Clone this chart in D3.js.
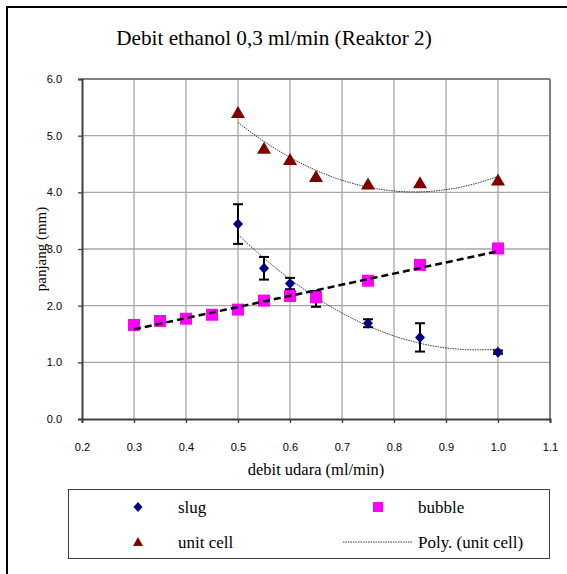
<!DOCTYPE html>
<html>
<head>
<meta charset="utf-8">
<script src="https://cdn.jsdelivr.net/npm/d3@7"></script>
<style>
  body { margin: 0; background: #fff; }
</style>
</head>
<body>
<div id="chart"></div>
<script>
// data
var xSlug = [0.5, 0.55, 0.6, 0.65, 0.75, 0.85, 1.0];
var ySlug = [3.44, 2.66, 2.39, 2.12, 1.69, 1.44, 1.18];
var errSlug = [0.35, 0.2, 0.1, 0.14, 0.07, 0.25, 0.03];

var xBubble = [0.3, 0.35, 0.4, 0.45, 0.5, 0.55, 0.6, 0.65, 0.75, 0.85, 1.0];
var yBubble = [1.66, 1.73, 1.77, 1.84, 1.93, 2.09, 2.17, 2.15, 2.44, 2.72, 3.01];

var xCell = [0.5, 0.55, 0.6, 0.65, 0.75, 0.85, 1.0];
var yCell = [5.4, 4.77, 4.57, 4.27, 4.14, 4.16, 4.21];

var xTicks = [0.2, 0.3, 0.4, 0.5, 0.6, 0.7, 0.8, 0.9, 1.0, 1.1];
var yTicks = [0, 1, 2, 3, 4, 5, 6];

var W = 567, H = 574;
var margin = {top: 79, right: 17, bottom: 155, left: 82},
    width = W - margin.left - margin.right,
    height = H - margin.top - margin.bottom;

var serif = "Liberation Serif, Times New Roman, serif";

var svg = d3.select("#chart")
  .append("svg")
  .attr("width", W)
  .attr("height", H);

// outer frame
svg.append("rect")
  .attr("x", 7).attr("y", 7)
  .attr("width", 620).attr("height", 620)
  .attr("fill", "none")
  .attr("stroke", "#000")
  .attr("stroke-width", 2);

svg.append("text")
  .attr("x", 274).attr("y", 45)
  .attr("text-anchor", "middle")
  .style("font-family", serif)
  .style("font-size", "21.2px")
  .text("Debit ethanol 0,3 ml/min (Reaktor 2)");

var g = svg.append("g")
  .attr("transform", "translate(" + margin.left + "," + margin.top + ")");

var xScale = d3.scaleLinear().domain([0.2, 1.1]).range([0, width]);
var yScale = d3.scaleLinear().domain([0, 6]).range([height, 0]);

// gridlines
g.append("g")
  .selectAll("line")
  .data(xTicks.slice(1))
  .enter()
  .append("line")
    .attr("x1", function (d) { return xScale(d); })
    .attr("x2", function (d) { return xScale(d); })
    .attr("y1", 0).attr("y2", height)
    .attr("stroke", "#a6a6a6").attr("stroke-width", 1.3);
g.append("g")
  .selectAll("line")
  .data(yTicks.slice(1))
  .enter()
  .append("line")
    .attr("x1", 0).attr("x2", width)
    .attr("y1", function (d) { return yScale(d); })
    .attr("y2", function (d) { return yScale(d); })
    .attr("stroke", "#a6a6a6").attr("stroke-width", 1.3);

// plot border top/right
g.append("line").attr("x1", 0).attr("x2", width).attr("y1", 0).attr("y2", 0)
  .attr("stroke", "#808080").attr("stroke-width", 2);
g.append("line").attr("x1", width).attr("x2", width).attr("y1", 0).attr("y2", height)
  .attr("stroke", "#808080").attr("stroke-width", 2);

// axes
var xAxis = g.append("g")
  .attr("transform", "translate(0," + height + ")")
  .call(d3.axisBottom(xScale).tickValues(xTicks).tickFormat(d3.format(".1f")).tickSize(4).tickPadding(20));
var yAxis = g.append("g")
  .call(d3.axisLeft(yScale).tickValues(yTicks).tickFormat(d3.format(".1f")).tickSize(4).tickPadding(16));

[xAxis, yAxis].forEach(function (a) {
  a.select(".domain").attr("stroke", "#404040").attr("stroke-width", 2);
  a.selectAll(".tick line").attr("stroke", "#404040").attr("stroke-width", 1.3);
  a.selectAll("text")
    .style("font-family", "Liberation Sans, Arial, sans-serif")
    .style("font-size", "11px")
    .attr("fill", "#000");
});

svg.append("text")
  .attr("transform", "translate(46," + (margin.top + yScale(3)) + ") rotate(-90)")
  .attr("text-anchor", "middle")
  .style("font-family", serif)
  .style("font-size", "15px")
  .text("panjang (mm)");

svg.append("text")
  .attr("x", 316).attr("y", 475)
  .attr("text-anchor", "middle")
  .style("font-family", serif)
  .style("font-size", "16.5px")
  .text("debit udara (ml/min)");

// least squares polynomial fit
function polyfit(xs, ys, deg) {
  var n = deg + 1, A = [], b = [];
  for (var i = 0; i < n; i++) {
    A.push([]);
    for (var j = 0; j < n; j++) A[i].push(d3.sum(xs, function (x) { return Math.pow(x, i + j); }));
    b.push(d3.sum(xs, function (x, k) { return ys[k] * Math.pow(x, i); }));
  }
  for (var c = 0; c < n; c++) {
    for (var r = c + 1; r < n; r++) {
      var f = A[r][c] / A[c][c];
      for (var k = c; k < n; k++) A[r][k] -= f * A[c][k];
      b[r] -= f * b[c];
    }
  }
  var coef = new Array(n);
  for (var r2 = n - 1; r2 >= 0; r2--) {
    var s = b[r2];
    for (var k2 = r2 + 1; k2 < n; k2++) s -= A[r2][k2] * coef[k2];
    coef[r2] = s / A[r2][r2];
  }
  return function (x) { return d3.sum(coef, function (cf, p) { return cf * Math.pow(x, p); }); };
}

function trendPoints(xs, ys, deg) {
  var f = polyfit(xs, ys, deg);
  var lo = d3.min(xs), hi = d3.max(xs);
  return d3.range(0, 61).map(function (i) { var x = lo + (hi - lo) * i / 60; return [x, f(x)]; });
}

var line = d3.line()
  .x(function (d) { return xScale(d[0]); })
  .y(function (d) { return yScale(d[1]); });

// trendlines
g.append("path").datum(trendPoints(xCell, yCell, 2))
  .attr("d", line).attr("fill", "none")
  .attr("stroke", "#000").attr("stroke-width", 0.8).attr("stroke-dasharray", "1.5,1");
g.append("path").datum(trendPoints(xSlug, ySlug, 2))
  .attr("d", line).attr("fill", "none")
  .attr("stroke", "#000").attr("stroke-width", 0.8).attr("stroke-dasharray", "1.5,1");

// error bars for slug
var eb = g.append("g").selectAll("g")
  .data(xSlug.map(function (x, i) { return {x: x, y: ySlug[i], e: errSlug[i]}; }))
  .enter().append("g");
eb.append("line")
  .attr("x1", function (d) { return xScale(d.x); })
  .attr("x2", function (d) { return xScale(d.x); })
  .attr("y1", function (d) { return yScale(d.y - d.e); })
  .attr("y2", function (d) { return yScale(d.y + d.e); })
  .attr("stroke", "#000").attr("stroke-width", 2);
eb.selectAll(".cap")
  .data(function (d) { return [[d.x, d.y - d.e], [d.x, d.y + d.e]]; })
  .enter().append("line")
  .attr("x1", function (d) { return xScale(d[0]) - 5; })
  .attr("x2", function (d) { return xScale(d[0]) + 5; })
  .attr("y1", function (d) { return yScale(d[1]); })
  .attr("y2", function (d) { return yScale(d[1]); })
  .attr("stroke", "#000").attr("stroke-width", 2);

// slug diamonds
g.append("g").selectAll("path")
  .data(xSlug)
  .enter().append("path")
  .attr("d", "M0,-5.5L5,0L0,5.5L-5,0Z")
  .attr("transform", function (d, i) { return "translate(" + xScale(d) + "," + yScale(ySlug[i]) + ")"; })
  .style("fill", "#000080");

// bubble squares
g.append("g").selectAll("rect")
  .data(xBubble)
  .enter().append("rect")
  .attr("x", function (d) { return xScale(d) - 6; })
  .attr("y", function (d, i) { return yScale(yBubble[i]) - 6; })
  .attr("width", 12).attr("height", 12)
  .style("fill", "#ff00ff");

// bubble linear trend
g.append("path").datum(trendPoints(xBubble, yBubble, 1))
  .attr("d", line).attr("fill", "none")
  .attr("stroke", "#000").attr("stroke-width", 2.5).attr("stroke-dasharray", "7,4");

// unit cell triangles
g.append("g").selectAll("path")
  .data(xCell)
  .enter().append("path")
  .attr("d", "M0,-7L7,5L-7,5Z")
  .attr("transform", function (d, i) { return "translate(" + xScale(d) + "," + yScale(yCell[i]) + ")"; })
  .style("fill", "#800000");

// legend
var lg = svg.append("g");
lg.append("rect")
  .attr("x", 68.5).attr("y", 489.5).attr("width", 481).attr("height", 69)
  .attr("fill", "#fff").attr("stroke", "#404040").attr("stroke-width", 1);

var legendFont = function (sel) {
  sel.style("font-family", serif).style("font-size", "17px");
};
lg.append("path").attr("d", "M0,-5L4.5,0L0,5L-4.5,0Z")
  .attr("transform", "translate(138,507)").style("fill", "#000080");
lg.append("text").attr("x", 178).attr("y", 512.5).text("slug").call(legendFont);
lg.append("rect").attr("x", 373).attr("y", 502).attr("width", 10).attr("height", 10).style("fill", "#ff00ff");
lg.append("text").attr("x", 418).attr("y", 512.5).text("bubble").call(legendFont);
lg.append("path").attr("d", "M0,-5L5,4L-5,4Z")
  .attr("transform", "translate(138,542)").style("fill", "#800000");
lg.append("text").attr("x", 178).attr("y", 547.5).text("unit cell").call(legendFont);
lg.append("line").attr("x1", 343).attr("x2", 412).attr("y1", 542).attr("y2", 542)
  .attr("stroke", "#000").attr("stroke-width", 0.8).attr("stroke-dasharray", "1.5,1");
lg.append("text").attr("x", 418).attr("y", 547.5).text("Poly. (unit cell)").call(legendFont);
</script>
</body>
</html>
